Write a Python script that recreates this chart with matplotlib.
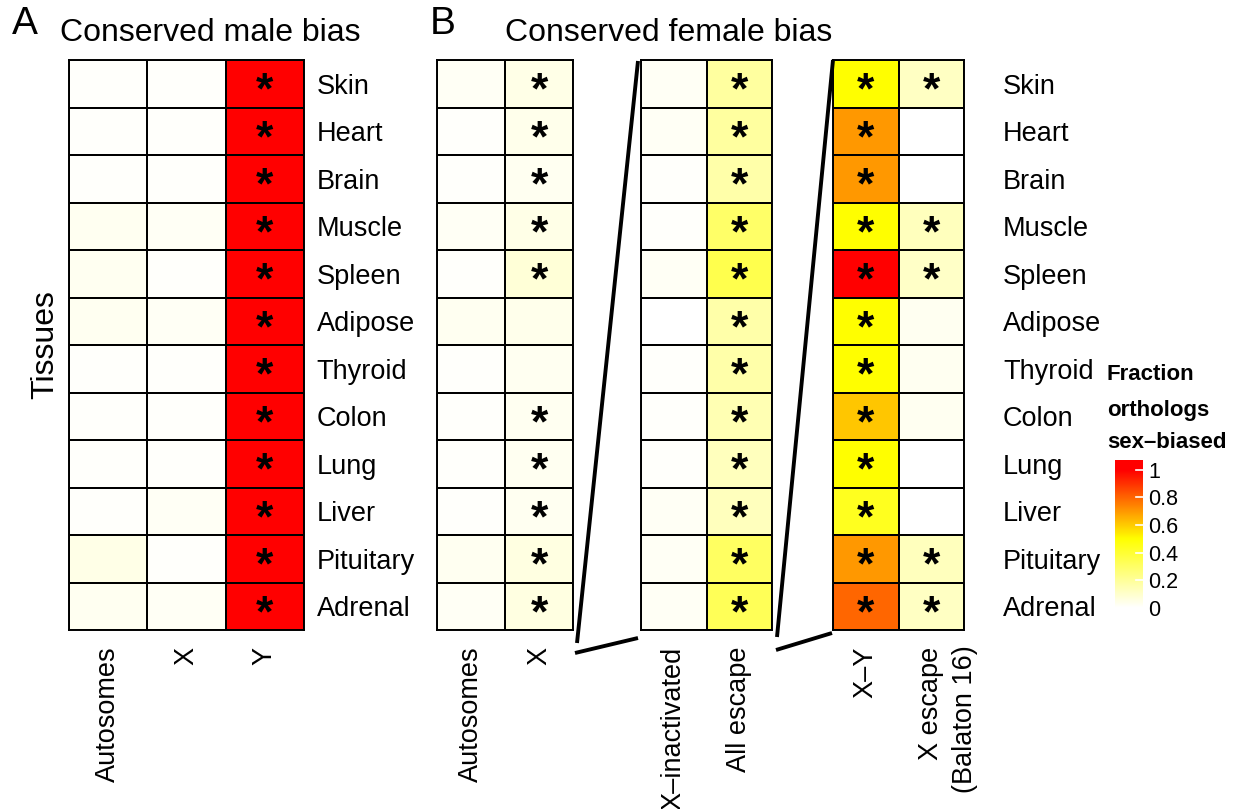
import numpy as np
import matplotlib
matplotlib.use("Agg")
import matplotlib.pyplot as plt
from matplotlib.colors import LinearSegmentedColormap
from matplotlib.lines import Line2D

plt.rcParams['font.family'] = ['Liberation Sans', 'DejaVu Sans']

tissues = ["Skin", "Heart", "Brain", "Muscle", "Spleen", "Adipose",
           "Thyroid", "Colon", "Lung", "Liver", "Pituitary", "Adrenal"]

# fraction of orthologs sex-biased, one list per column
male_autosomes = [0.01, 0.01, 0.01, 0.03, 0.03, 0.03, 0.01, 0.01, 0.01, 0.01, 0.05, 0.03]
male_x         = [0.01, 0.01, 0.01, 0.02, 0.01, 0.02, 0.01, 0.01, 0.01, 0.02, 0.01, 0.02]
male_y         = [1.0] * 12

fem_autosomes  = [0.02, 0.01, 0.01, 0.02, 0.01, 0.03, 0.01, 0.01, 0.01, 0.01, 0.03, 0.02]
fem_x          = [0.05, 0.04, 0.03, 0.05, 0.08, 0.04, 0.03, 0.03, 0.03, 0.03, 0.06, 0.06]
fem_xinact     = [0.02, 0.02, 0.01, 0.01, 0.02, 0.00, 0.01, 0.01, 0.01, 0.02, 0.02, 0.02]
fem_allesc     = [0.19, 0.19, 0.17, 0.30, 0.35, 0.17, 0.17, 0.15, 0.13, 0.13, 0.31, 0.33]
fem_xy         = [0.50, 0.70, 0.70, 0.50, 1.00, 0.50, 0.50, 0.61, 0.50, 0.44, 0.70, 0.80]
fem_xesc       = [0.12, 0.00, 0.00, 0.13, 0.11, 0.03, 0.03, 0.03, 0.00, 0.00, 0.13, 0.12]

# significance flags (asterisks)
sig_male_y   = [1] * 12
sig_fem_x    = [1, 1, 1, 1, 1, 0, 0, 1, 1, 1, 1, 1]
sig_allesc   = [1] * 12
sig_xy       = [1] * 12
sig_xesc     = [1, 0, 0, 1, 1, 0, 0, 0, 0, 0, 1, 1]
no_sig       = [0] * 12

cmap = LinearSegmentedColormap.from_list("wyr", [(0, "white"), (0.5, "yellow"), (1, "red")])

W, H = 1241, 809
fig = plt.figure(figsize=(W / 100, H / 100), dpi=100)


def rect(x0, y0, x1, y1):
    return [x0 / W, 1 - y1 / H, (x1 - x0) / W, (y1 - y0) / H]


def heat(box, cols, sigs, xlabels, ylabel_pad=None):
    ax = fig.add_axes(rect(*box))
    data = np.array(cols).T
    n = data.shape[1]
    ax.pcolormesh(data, cmap=cmap, vmin=0, vmax=1, edgecolors="black", linewidth=1.4)
    ax.set_xlim(0, n)
    ax.set_ylim(12, 0)
    for j, s in enumerate(sigs):
        for i, v in enumerate(s):
            if v:
                ax.text(j + 0.5, i + 0.68, "*", ha="center", va="center",
                        fontsize=32, fontweight="bold")
    ax.set_xticks(np.arange(n) + 0.5)
    ax.set_xticklabels(xlabels, rotation=90, va="top", ha="center", fontsize=19.5)
    ax.tick_params(axis="x", length=0, pad=12)
    if ylabel_pad is not None:
        ax.yaxis.tick_right()
        ax.set_yticks(np.arange(12) + 0.5)
        ax.set_yticklabels(tissues, fontsize=19.5)
        ax.tick_params(axis="y", length=0, pad=ylabel_pad)
    else:
        ax.set_yticks([])
    for sp in ax.spines.values():
        sp.set_linewidth(1.4)
    return ax


heat((69, 60, 304, 630), [male_autosomes, male_x, male_y],
     [no_sig, no_sig, sig_male_y], ["Autosomes", "X", "Y"], ylabel_pad=9)
heat((437, 60, 573, 630), [fem_autosomes, fem_x],
     [no_sig, sig_fem_x], ["Autosomes", "X"])
heat((641, 60, 772, 630), [fem_xinact, fem_allesc],
     [no_sig, sig_allesc], ["X–inactivated", "All escape"])
heat((833, 60, 964, 630), [fem_xy, fem_xesc],
     [sig_xy, sig_xesc], ["X–Y", "X escape"], ylabel_pad=28)
fig.text(965 / W, 1 - 645 / H, "(Balaton 16)", rotation=90, ha="center", va="top", fontsize=19.5)

# zoom connectors between panel B blocks
for (x0, y0), (x1, y1) in [((638, 61), (577, 643)), ((575, 653), (638, 638)),
                           ((833, 60), (777, 637)), ((776, 650), (832, 633))]:
    fig.add_artist(Line2D([x0 / W, x1 / W], [1 - y0 / H, 1 - y1 / H], color="black",
                          linewidth=2.8, solid_capstyle="butt"))

# titles
fig.text(12 / W, 1 - 24 / H, "A", fontsize=28, va="center", ha="left")
fig.text(60 / W, 1 - 33 / H, "Conserved male bias", fontsize=23, va="center", ha="left")
fig.text(430 / W, 1 - 24 / H, "B", fontsize=28, va="center", ha="left")
fig.text(505 / W, 1 - 33 / H, "Conserved female bias", fontsize=23, va="center", ha="left")
fig.text(45 / W, 1 - 345 / H, "Tissues", fontsize=23, rotation=90, va="center", ha="center")

# color legend
fig.text(1107 / W, 1 - 375 / H, "Fraction", fontsize=16, fontweight="bold", va="center")
fig.text(1107 / W, 1 - 410 / H, "orthologs", fontsize=16, fontweight="bold", va="center")
fig.text(1107 / W, 1 - 443 / H, "sex–biased", fontsize=16, fontweight="bold", va="center")
cax = fig.add_axes(rect(1115, 460, 1143, 610))
lo, hi = -0.015, 1.07
grad = np.linspace(lo, hi, 300).reshape(-1, 1)
cax.imshow(grad, cmap=cmap, vmin=0, vmax=1, aspect="auto", origin="lower",
           extent=[0, 1, lo, hi])
cbar_ticks = [0, 0.2, 0.4, 0.6, 0.8, 1]
for t in cbar_ticks:
    cax.plot([0.75, 1.0], [t, t], color="white", linewidth=1.2)
cax.set_xlim(0, 1)
cax.set_ylim(lo, hi)
cax.set_xticks([])
cax.yaxis.tick_right()
cax.set_yticks(cbar_ticks)
cax.set_yticklabels(["0", "0.2", "0.4", "0.6", "0.8", "1"], fontsize=15.5)
cax.tick_params(axis="y", length=0, pad=4)
for sp in cax.spines.values():
    sp.set_visible(False)

fig.savefig("out.png", dpi=100)
